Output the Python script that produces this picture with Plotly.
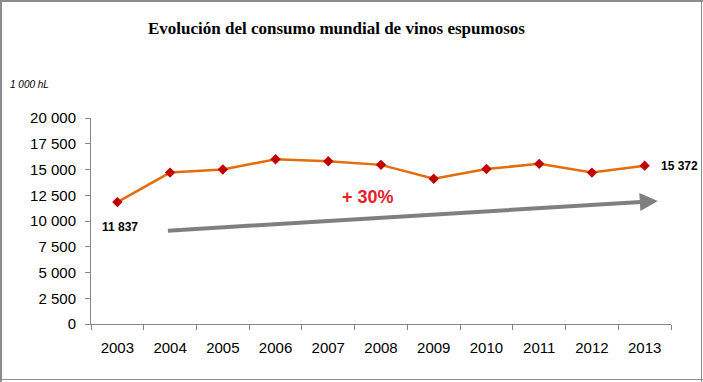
import plotly.graph_objects as go

years = ["2003", "2004", "2005", "2006", "2007", "2008", "2009", "2010", "2011", "2012", "2013"]
consumo = [11837, 14700, 15000, 16000, 15800, 15450, 14100, 15050, 15550, 14700, 15372]
y_ticks = [0, 2500, 5000, 7500, 10000, 12500, 15000, 17500, 20000]
y_ticktext = ["0", "2 500", "5 000", "7 500", "10 000", "12 500", "15 000", "17 500", "20 000"]
trend_start = (0.93, 9050)
trend_end = (10.25, 11950)
label_first = "11 837"
label_last = "15 372"
growth_text = "+ 30%"

W, H = 703, 382
L, R, T, B = 91, 32, 118, 58
pw, ph = W - L - R, H - T - B


def px(xp):
    return (xp - L) / pw


def py(yp):
    return (T + ph - yp) / ph


fig = go.Figure()
fig.add_trace(go.Scatter(
    x=years, y=consumo, mode="lines+markers",
    line=dict(color="#E46C0A", width=2.5),
    marker=dict(symbol="diamond", size=8, color="#C00000", line=dict(color="#C00000", width=0)),
    hoverinfo="skip", showlegend=False,
))

# trend arrow
fig.add_annotation(
    x=trend_end[0], y=trend_end[1], ax=trend_start[0], ay=trend_start[1],
    xref="x", yref="y", axref="x", ayref="y",
    showarrow=True, arrowhead=2, arrowsize=0.9, arrowwidth=4, arrowcolor="#7F7F7F", text="",
)
fig.add_annotation(x=4.75, y=12300, xref="x", yref="y", text="<b>" + growth_text + "</b>",
                   showarrow=False, font=dict(family="Liberation Sans", size=18, color="#E8202A"))
fig.add_annotation(x=0, y=consumo[0], xref="x", yref="y", text="<b>" + label_first + "</b>",
                   showarrow=False, yshift=-25, xshift=3,
                   font=dict(family="Liberation Sans", size=12, color="#000000"))
fig.add_annotation(x=10, y=consumo[-1], xref="x", yref="y", text="<b>" + label_last + "</b>",
                   showarrow=False, xanchor="left", xshift=14,
                   font=dict(family="Liberation Sans", size=12, color="#000000"))

fig.add_annotation(x=px(336), y=py(28), xref="paper", yref="paper",
                   xanchor="center", yanchor="middle",
                   text="<b>Evolución del consumo mundial de vinos espumosos</b>", showarrow=False,
                   font=dict(family="Liberation Serif", size=17, color="#000000"))
fig.add_annotation(x=px(8), y=py(84), xref="paper", yref="paper",
                   xanchor="left", yanchor="middle",
                   text="<i>1 000 hL</i>", showarrow=False,
                   font=dict(family="Liberation Sans", size=10, color="#000000"))

# outer frame
frame = "#8C8C8C"
fig.add_shape(type="line", xref="paper", yref="paper", x0=px(1), x1=px(1), y0=py(0), y1=py(H),
              line=dict(color=frame, width=2))
fig.add_shape(type="line", xref="paper", yref="paper", x0=px(0), x1=px(W), y0=py(1), y1=py(1),
              line=dict(color=frame, width=2))
fig.add_shape(type="line", xref="paper", yref="paper", x0=px(701.5), x1=px(701.5), y0=py(0), y1=py(H),
              line=dict(color=frame, width=1))
fig.add_shape(type="line", xref="paper", yref="paper", x0=px(0), x1=px(W), y0=py(379.5), y1=py(379.5),
              line=dict(color=frame, width=1))

fig.update_layout(
    width=W, height=H, margin=dict(l=L, r=R, t=T, b=B, autoexpand=False),
    paper_bgcolor="white", plot_bgcolor="white",
    font=dict(family="Liberation Sans", size=15, color="#000000"),
    xaxis=dict(type="category", range=[-0.5, len(years) - 0.5], tickson="boundaries",
               showline=True, linecolor="#868686",
               ticks="outside", ticklen=5, tickcolor="#868686", showgrid=False, zeroline=False,
               ticklabelstandoff=10, tickfont=dict(size=15), automargin=False),
    yaxis=dict(range=[0, 20000], tickvals=y_ticks, ticktext=y_ticktext, showline=True,
               linecolor="#868686", ticks="outside", ticklen=5, tickcolor="#868686",
               showgrid=False, zeroline=False, ticklabelstandoff=6, tickfont=dict(size=15),
               automargin=False),
)

fig.write_html("out.html", config={"displayModeBar": False},
               post_script="document.body.style.margin='0';document.body.style.overflow='hidden';")
